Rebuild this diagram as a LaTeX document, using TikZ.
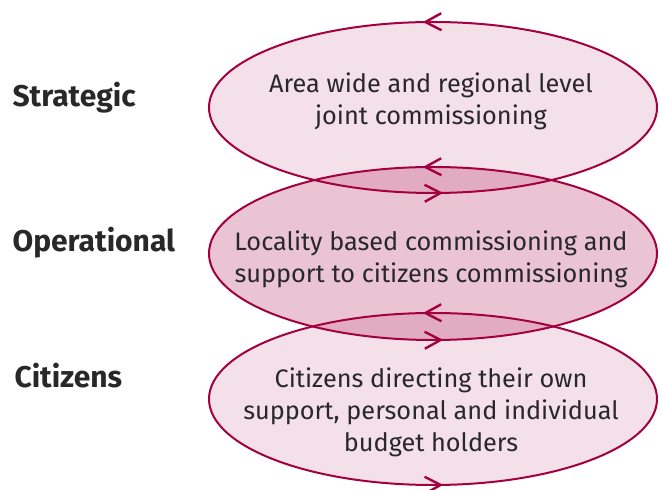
\documentclass[tikz,border=0pt]{standalone}
\usepackage{fontspec}
\setmainfont{Fira Sans}
\usetikzlibrary{arrows.meta,decorations.markings}
\definecolor{tierline}{RGB}{163,0,63}
\definecolor{tiertext}{RGB}{40,40,40}
\tikzset{
  tierarrow/.tip={Straight Barb[length=16pt,width=17pt,line width=2.4pt]},
}
\begin{document}
\begin{tikzpicture}[x=1pt, y=1pt,
  tier/.style={draw=tierline, line width=2pt, postaction={decorate},
    decoration={markings,
      mark=at position 0.26 with {\arrow{tierarrow}},
      mark=at position 0.76 with {\arrow{tierarrow}}}},
  level/.style={anchor=base west, text=tiertext, font=\fontsize{30}{34}\selectfont\bfseries},
  task/.style={align=center, text=tiertext, font=\fontsize{25.3}{32}\selectfont}]
\useasboundingbox (0,0) rectangle (662,490);

% ellipse fills first, outlines on top
\foreach \cy/\ry/\op in {382.5/85.5/.12, 236.5/86.5/.23, 91/86/.12} {
    \fill[tierline, fill opacity=\op] (657,\cy) arc[start angle=0, end angle=360, x radius=224, y radius=\ry];
  }
\foreach \cy/\ry in {382.5/85.5, 236.5/86.5, 91/86} {
    \draw[tier] (657,\cy) arc[start angle=0, end angle=360, x radius=224, y radius=\ry];
  }

% tier labels
\node[level] (strategic) at (9,383) {Strategic};
\node[level] (operational) at (9,238) {Operational};
\node[level] (citizens) at (11,102) {Citizens};

% ellipse texts
\node[task] (strategic-task) at (431,389) {Area wide and regional level\\joint commissioning};
\node[task] (operational-task) at (431,230.5) {Locality based commissioning and\\support to citizens commissioning};
\node[task] (citizens-task) at (431,78) {Citizens directing their own\\support, personal and individual\\budget holders};
\end{tikzpicture}
\end{document}
